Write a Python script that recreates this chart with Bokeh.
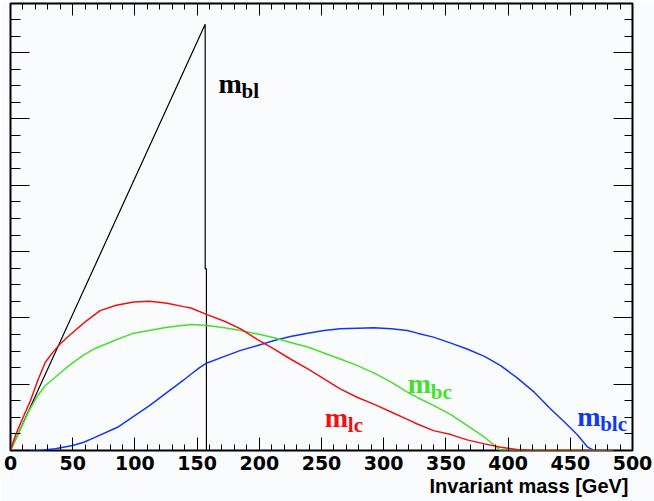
from bokeh.plotting import figure
from bokeh.models import Range1d, LinearAxis, SingleIntervalTicker, Label, Title
from bokeh.embed import file_html
from bokeh.resources import INLINE

# ---- data (x = invariant mass [GeV], y = arbitrary units) ----
bl_x = [0, 156.5, 156.5, 157.5, 157.5, 500]
bl_y = [0, 6.43, 2.74, 2.74, 0, 0]

lc_x = [0, 4, 9, 16, 22, 28, 34, 40, 50, 60, 72, 85, 99, 112, 126, 139, 145, 158, 172, 185,
        198, 212, 225, 239, 252, 265, 279, 292, 306, 319, 327, 340, 354, 367, 381, 394, 407, 421, 500]
lc_y = [0, 0.23, 0.45, 0.75, 1.06, 1.33, 1.48, 1.61, 1.78, 1.94, 2.11, 2.19, 2.24, 2.25, 2.22, 2.17, 2.15, 2.05, 1.95, 1.835,
        1.68, 1.53, 1.38, 1.23, 1.08, 0.93, 0.80, 0.70, 0.58, 0.47, 0.40, 0.30, 0.24, 0.16, 0.10, 0.05, 0.015, 0, 0]

bc_x = [0, 7, 15, 22, 28, 36, 47, 58, 67, 85, 99, 126, 145, 158, 172, 185, 198, 212, 225, 239,
        252, 265, 279, 292, 306, 319, 327, 340, 354, 367, 381, 394, 500]
bc_y = [0, 0.28, 0.60, 0.83, 0.98, 1.105, 1.28, 1.43, 1.53, 1.67, 1.77, 1.86, 1.90, 1.885, 1.85, 1.81, 1.76, 1.70, 1.63, 1.56,
        1.47, 1.38, 1.28, 1.17, 1.03, 0.88, 0.80, 0.68, 0.54, 0.38, 0.20, 0, 0]

blc_x = [0, 23, 36, 50, 59, 67, 86, 112, 139, 145, 152, 158, 172, 185, 198, 212, 225, 239, 252, 265,
         279, 292, 306, 319, 327, 340, 354, 367, 381, 394, 407, 421, 434, 448, 456, 464, 469, 500]
blc_y = [0, 0, 0.025, 0.075, 0.125, 0.19, 0.35, 0.68, 1.06, 1.15, 1.25, 1.32, 1.42, 1.51, 1.58, 1.66, 1.72, 1.77, 1.81, 1.835,
         1.845, 1.85, 1.835, 1.81, 1.77, 1.71, 1.62, 1.53, 1.42, 1.28, 1.10, 0.88, 0.63, 0.38, 0.23, 0.05, 0, 0]

x_label = "Invariant mass [GeV]"

BG = "#f9fbfd"
RED = "#f01010"
GREEN = "#44e02a"
BLUE = "#1038f0"

p = figure(width=654, height=501, x_range=Range1d(0, 500), y_range=Range1d(0, 6.742),
           output_backend="svg", toolbar_location=None,
           min_border_left=10, min_border_right=22, min_border_top=3, min_border_bottom=51)
p.background_fill_color = BG
p.border_fill_color = BG
p.outline_line_color = "black"
p.outline_line_width = 2
p.xgrid.visible = False
p.ygrid.visible = False

def style(ax, maj, mnr, labels):
    ax.axis_line_color = None
    ax.major_tick_line_color = "black"
    ax.minor_tick_line_color = "black"
    ax.major_tick_line_width = 1
    ax.minor_tick_line_width = 1
    ax.major_tick_in = maj
    ax.major_tick_out = 0
    ax.minor_tick_in = mnr
    ax.minor_tick_out = 0
    if not labels:
        ax.major_label_text_font_size = "1px"
        ax.major_label_text_color = None
        ax.major_label_standoff = 0

xb = p.xaxis[0]
xb.ticker = SingleIntervalTicker(interval=50, num_minor_ticks=5)
style(xb, 13, 6, True)
xb.major_label_text_font = "DejaVu Sans"
xb.major_label_text_font_style = "bold"
xb.major_label_text_font_size = "19px"
xb.major_label_text_color = "black"
xb.major_label_standoff = 5

yl = p.yaxis[0]
yl.ticker = SingleIntervalTicker(interval=1, num_minor_ticks=4)
style(yl, 19, 10, False)

xa = LinearAxis(ticker=SingleIntervalTicker(interval=50, num_minor_ticks=5))
style(xa, 12, 6, False)
p.add_layout(xa, "above")
yr = LinearAxis(ticker=SingleIntervalTicker(interval=1, num_minor_ticks=4))
style(yr, 19, 8, False)
p.add_layout(yr, "right")

p.line(bl_x, bl_y, line_color="black", line_width=1.2)
p.line(blc_x, blc_y, line_color=BLUE, line_width=1.5)
p.line(bc_x, bc_y, line_color=GREEN, line_width=1.5)
p.line(lc_x, lc_y, line_color=RED, line_width=1.5)

def mlabel(x, y, sub, color):
    p.add_layout(Label(x=x, y=y, text="m", text_font="Liberation Serif", text_font_style="bold",
                       text_font_size="28px", text_color=color, text_baseline="alphabetic", text_align="left"))
    p.add_layout(Label(x=x, y=y, x_offset=23, y_offset=-8, text=sub, text_font="Liberation Serif",
                       text_font_style="bold", text_font_size="21px", text_color=color,
                       text_baseline="alphabetic", text_align="left"))

mlabel(167.2, 5.54, "bl", "black")
mlabel(252.7, 0.50, "lc", RED)
mlabel(319.4, 1.006, "bc", GREEN)
mlabel(455.5, 0.517, "blc", BLUE)

t = Title(text=x_label, align="right", offset=4, standoff=0, text_font="Liberation Sans",
          text_font_style="bold", text_font_size="20px", text_color="black")
p.add_layout(t, "below")

open("out.html", "w").write(file_html(p, INLINE))
